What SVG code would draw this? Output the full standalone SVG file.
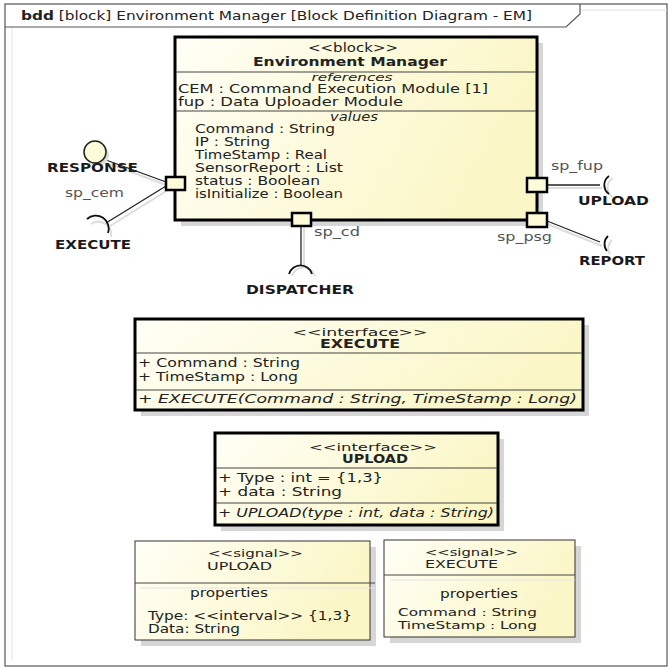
<svg xmlns="http://www.w3.org/2000/svg" width="670" height="669" viewBox="0 0 670 669">
<defs>
<linearGradient id="yel" x1="0" y1="0" x2="1" y2="0.3">
<stop offset="0" stop-color="#fffff6"/>
<stop offset="1" stop-color="#fbf6c6"/>
</linearGradient>
<style>
text{font-family:"DejaVu Sans",Verdana,sans-serif;fill:#222;}
.t{font-size:12px;}
.s{font-size:10.5px;}
.u{font-size:11.2px;}
.b{font-size:12px;font-weight:bold;}
.i{font-style:italic;}
.m{text-anchor:middle;}
.pl{font-size:12px;fill:#555;}
.lb{font-size:13px;font-weight:bold;fill:#1a1a1a;}
.box{fill:url(#yel);stroke:#000;stroke-width:3;}
.sig{fill:url(#yel);stroke:#333;stroke-width:1;}
.sh{fill:#d6d6d6;}
.sep{stroke:#444;stroke-width:1;}
.port{fill:#fdfbd8;stroke:#000;stroke-width:2.5;}
.ln{stroke:#222;stroke-width:1.3;fill:none;}
.sk{stroke:#111;stroke-width:1.8;fill:none;}
.lsh{stroke:#ddd;stroke-width:2;fill:none;}
</style>
</defs>
<rect width="670" height="669" fill="#fff"/>
<g id="frame">
<rect x="5" y="4" width="662" height="662" fill="none" stroke="#555" stroke-width="1.2"/>
<line x1="12" y1="27" x2="12" y2="660" stroke="#e2e2e2" stroke-width="1"/>
<line x1="580" y1="10" x2="667" y2="10" stroke="#e2e2e2" stroke-width="1"/>
<path d="M5,27 L566,27 L580,14 L580,4" fill="none" stroke="#555" stroke-width="1.2"/>
<text class="t" x="21" y="20" textLength="511" lengthAdjust="spacingAndGlyphs"><tspan font-weight="bold">bdd</tspan> [block] Environment Manager [Block Definition Diagram - EM]</text>
</g>
<g id="connectors">
<line class="lsh" x1="110" y1="164" x2="166" y2="185"/>
<line class="ln" x1="106" y1="160" x2="166" y2="182"/>
<line class="lsh" x1="110" y1="226" x2="168" y2="190"/>
<line class="ln" x1="106" y1="223" x2="166" y2="186"/>
<path class="lsh" d="M91,224 A13,13 0 0 1 111,237"/>
<path class="sk" d="M87,219 A13,13 0 0 1 108,233"/>
<line class="lsh" x1="304" y1="228" x2="304" y2="266"/>
<line class="ln" x1="301" y1="226" x2="301" y2="265"/>
<path class="lsh" d="M292,276 A12,12 0 0 1 315,276"/>
<path class="sk" d="M289,274 A12,12 0 0 1 312,274"/>
<line class="lsh" x1="547" y1="188" x2="602" y2="188"/>
<line class="ln" x1="547" y1="185" x2="600" y2="185"/>
<path class="lsh" d="M613,178 A11,11 0 0 0 613,197"/>
<path class="sk" d="M609,176 A11,11 0 0 0 609,194"/>
<line class="lsh" x1="547" y1="224" x2="602" y2="246"/>
<line class="ln" x1="547" y1="221" x2="600" y2="242"/>
<path class="lsh" d="M612,240 A11,11 0 0 0 610,254"/>
<path class="sk" d="M608,236 A11,11 0 0 0 607,251"/>
</g>
<g id="environment-manager">
<rect class="sh" x="181" y="43" width="362" height="183"/>
<rect class="box" x="175" y="37" width="362" height="183"/>
<text class="t m" x="353" y="52" textLength="90" lengthAdjust="spacingAndGlyphs">&lt;&lt;block&gt;&gt;</text>
<text class="b m" x="350" y="66" textLength="194" lengthAdjust="spacingAndGlyphs">Environment Manager</text>
<line class="sep" x1="176" y1="72" x2="536" y2="72"/>
<text class="s i m" x="352" y="80.5" textLength="81" lengthAdjust="spacingAndGlyphs">references</text>
<text class="t" x="178" y="93" textLength="310" lengthAdjust="spacingAndGlyphs">CEM : Command Execution Module [1]</text>
<text class="t" x="178" y="106" textLength="225" lengthAdjust="spacingAndGlyphs">fup : Data Uploader Module</text>
<line class="sep" x1="176" y1="111" x2="536" y2="111"/>
<text class="t i m" x="354" y="121" textLength="48" lengthAdjust="spacingAndGlyphs">values</text>
<text class="t" x="195" y="133" textLength="140" lengthAdjust="spacingAndGlyphs">Command : String</text>
<text class="t" x="195" y="146" textLength="75" lengthAdjust="spacingAndGlyphs">IP : String</text>
<text class="t" x="195" y="159" textLength="132" lengthAdjust="spacingAndGlyphs">TimeStamp : Real</text>
<text class="t" x="195" y="172" textLength="148" lengthAdjust="spacingAndGlyphs">SensorReport : List</text>
<text class="t" x="195" y="185" textLength="125" lengthAdjust="spacingAndGlyphs">status : Boolean</text>
<text class="t" x="195" y="198" textLength="148" lengthAdjust="spacingAndGlyphs">isInitialize : Boolean</text>
</g>
<g id="port-sp_cem">
<rect class="port" x="166" y="177" width="19" height="13"/>
<text class="pl" x="65" y="197" textLength="59" lengthAdjust="spacingAndGlyphs">sp_cem</text>
</g>
<g id="port-sp_cd">
<rect class="port" x="292" y="213" width="19" height="13"/>
<text class="pl" x="314" y="236" textLength="46" lengthAdjust="spacingAndGlyphs">sp_cd</text>
</g>
<g id="port-sp_fup">
<rect class="port" x="527" y="178" width="20" height="14"/>
<text class="pl" x="551" y="170" textLength="52" lengthAdjust="spacingAndGlyphs">sp_fup</text>
</g>
<g id="port-sp_psg">
<rect class="port" x="527" y="213" width="20" height="14"/>
<text class="pl" x="497" y="241" textLength="55" lengthAdjust="spacingAndGlyphs">sp_psg</text>
</g>
<g id="iface-response">
<circle cx="98" cy="155" r="11" fill="#ddd"/>
<circle cx="95" cy="152" r="11" fill="#fdfbd8" stroke="#222" stroke-width="1.5"/>
<text class="lb" x="47" y="171.5" textLength="91" lengthAdjust="spacingAndGlyphs">RESPONSE</text>
</g>
<g id="iface-execute-req">
<text class="lb" x="55" y="249" textLength="76" lengthAdjust="spacingAndGlyphs">EXECUTE</text>
</g>
<g id="iface-dispatcher">
<text class="lb" x="246" y="294" textLength="108" lengthAdjust="spacingAndGlyphs">DISPATCHER</text>
</g>
<g id="iface-upload-req">
<text class="lb" x="578" y="205" textLength="71" lengthAdjust="spacingAndGlyphs">UPLOAD</text>
</g>
<g id="iface-report">
<text class="lb" x="579" y="265" textLength="66" lengthAdjust="spacingAndGlyphs">REPORT</text>
</g>
<g id="interface-execute">
<rect class="sh" x="141" y="325" width="448" height="91"/>
<rect class="box" x="135" y="319" width="448" height="91"/>
<text class="s m" x="360" y="335.5" textLength="135" lengthAdjust="spacingAndGlyphs">&lt;&lt;interface&gt;&gt;</text>
<text class="b m" x="360" y="347.5" textLength="80" lengthAdjust="spacingAndGlyphs">EXECUTE</text>
<line class="sep" x1="136" y1="353" x2="582" y2="353"/>
<text class="t" x="138" y="367" textLength="162" lengthAdjust="spacingAndGlyphs">+ Command : String</text>
<text class="t" x="138" y="381" textLength="160" lengthAdjust="spacingAndGlyphs">+ TimeStamp : Long</text>
<line class="sep" x1="136" y1="390" x2="582" y2="390"/>
<text class="t i" x="138" y="402.5" textLength="439" lengthAdjust="spacingAndGlyphs">+ EXECUTE(Command : String, TimeStamp : Long)</text>
</g>
<g id="interface-upload">
<rect class="sh" x="221" y="439" width="283" height="92"/>
<rect class="box" x="215" y="433" width="283" height="92"/>
<text class="s m" x="373" y="450.5" textLength="128" lengthAdjust="spacingAndGlyphs">&lt;&lt;interface&gt;&gt;</text>
<text class="b m" x="375" y="462.5" textLength="66" lengthAdjust="spacingAndGlyphs">UPLOAD</text>
<line class="sep" x1="216" y1="468" x2="497" y2="468"/>
<text class="t" x="218" y="482" textLength="165" lengthAdjust="spacingAndGlyphs">+ Type : int = {1,3}</text>
<text class="t" x="218" y="496" textLength="124" lengthAdjust="spacingAndGlyphs">+ data : String</text>
<line class="sep" x1="216" y1="503" x2="497" y2="503"/>
<text class="t i" x="218" y="517" textLength="276" lengthAdjust="spacingAndGlyphs">+ UPLOAD(type : int, data : String)</text>
</g>
<g id="signal-upload">
<rect class="sh" x="141" y="547" width="235" height="99"/>
<rect class="sig" x="135" y="541" width="235" height="99"/>
<text class="s" x="208" y="557" textLength="95" lengthAdjust="spacingAndGlyphs">&lt;&lt;signal&gt;&gt;</text>
<text class="s" x="207" y="570" textLength="65" lengthAdjust="spacingAndGlyphs">UPLOAD</text>
<line class="sep" x1="135" y1="583" x2="375" y2="583"/>
<line x1="140" y1="588" x2="375" y2="588" stroke="#e4e4e4" stroke-width="1"/>
<text class="t" x="190" y="597" textLength="78" lengthAdjust="spacingAndGlyphs">properties</text>
<text class="t" x="148" y="620" textLength="204" lengthAdjust="spacingAndGlyphs">Type: &lt;&lt;interval&gt;&gt; {1,3}</text>
<text class="t" x="148" y="633" textLength="92" lengthAdjust="spacingAndGlyphs">Data: String</text>
</g>
<g id="signal-execute">
<rect class="sh" x="390" y="546" width="191" height="97"/>
<rect class="sig" x="384" y="540" width="191" height="97"/>
<text class="s" x="425" y="556" textLength="93" lengthAdjust="spacingAndGlyphs">&lt;&lt;signal&gt;&gt;</text>
<text class="s" x="425" y="568" textLength="73" lengthAdjust="spacingAndGlyphs">EXECUTE</text>
<line class="sep" x1="384" y1="575" x2="575" y2="575"/>
<line x1="390" y1="580" x2="575" y2="580" stroke="#e4e4e4" stroke-width="1"/>
<text class="t" x="440" y="598" textLength="78" lengthAdjust="spacingAndGlyphs">properties</text>
<text class="u" x="398" y="615.5" textLength="139" lengthAdjust="spacingAndGlyphs">Command : String</text>
<text class="u" x="398" y="628.5" textLength="139" lengthAdjust="spacingAndGlyphs">TimeStamp : Long</text>
</g>
</svg>
